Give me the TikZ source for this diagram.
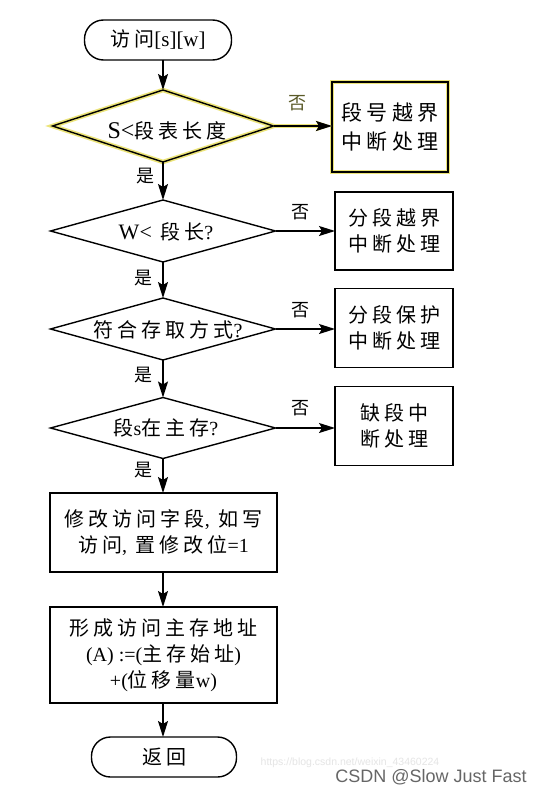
\documentclass[tikz,border=0pt]{standalone}
\usepackage{fontspec}
\setmainfont{Liberation Serif}
\newfontfamily\cjk[LetterSpace=20]{Noto Sans CJK SC}
\newfontfamily\wm{Liberation Sans}
\usetikzlibrary{shapes.geometric,arrows.meta}
\definecolor{halo}{RGB}{236,228,120}
\begin{document}
\begin{tikzpicture}[x=1pt,y=-1pt,
  every node/.style={inner sep=0pt, outer sep=0pt},
  arr/.style={line width=1.4pt, -{Stealth[length=16pt,width=10pt,inset=3pt]}},
  term/.style={draw, line width=1.4pt, rectangle, rounded corners=19pt, font=\cjk\fontsize{20}{26}\selectfont},
  dec/.style={draw, line width=1.4pt, diamond, minimum width=225pt},
  proc/.style={draw, line width=1.4pt, rectangle, align=center, font=\cjk\fontsize{20}{26}\selectfont},
  txt/.style={align=center, font=\cjk\fontsize{20}{26}\selectfont},
  lab/.style={font=\cjk\fontsize{18}{18}\selectfont},
  hl/.style={preaction={draw=halo, line width=4.5pt}}]
\fill[white] (0,0) rectangle (546,792);
\useasboundingbox (0,0) rectangle (546,792);

% start
\node[term, minimum width=147pt, minimum height=40pt] (start) at (158,40) {访问{\rmfamily\fontsize{21}{26}\selectfont[s][w]}};

% decisions
\node[dec, hl, minimum width=221pt, minimum height=72pt] (d1) at (163,126) {};
\node[txt] (t1) at (167,131) {{\rmfamily\fontsize{24}{26}\selectfont S<}段表长度};
\node[dec, minimum height=62pt] (d2) at (163,231) {};
\node[txt] (t2) at (166,232) {{\rmfamily\fontsize{22}{26}\selectfont W<} 段长{\rmfamily ?}};
\node[dec, minimum height=62pt] (d3) at (163,329) {};
\node[txt] (t3) at (168,330) {符合存取方式{\rmfamily ?}};
\node[dec, minimum height=61pt] (d4) at (163,428) {};
\node[txt] (t4) at (166,428) {段{\rmfamily s}在主存{\rmfamily ?}};

% side boxes
\node[proc, hl, minimum width=116pt, minimum height=90pt, font=\cjk\fontsize{21}{29}\selectfont] (b1) at (390,127) {段号越界\\中断处理};
\node[proc, minimum width=118pt, minimum height=78pt] (b2) at (394,231) {分段越界\\中断处理};
\node[proc, minimum width=118pt, minimum height=79pt] (b3) at (394,328) {分段保护\\中断处理};
\node[proc, minimum width=118pt, minimum height=79pt] (b4) at (394,426) {缺段中\\断处理};

% main boxes
\node[proc, minimum width=227pt, minimum height=79pt] (b5) at (163.5,532.5) {修改访问字段{\rmfamily ,} 如写\\访问{\rmfamily ,} 置修改位{\rmfamily =1}};
\node[proc, minimum width=227pt, minimum height=96pt] (b6) at (163.5,655) {形成访问主存地址\\{\rmfamily (A) :=(}主存始址{\rmfamily )}\\{\rmfamily +(}位移量{\rmfamily w)}};

% end
\node[term, minimum width=145pt, minimum height=40pt] (end) at (164,757) {返回};

% labels
\node[lab, text={rgb,255:red,90;green,90;blue,40}] (n1) at (297,103) {否};
\node[lab] (n2) at (300,212) {否};
\node[lab] (n3) at (300,310) {否};
\node[lab] (n4) at (300,408) {否};
\node[lab] (y1) at (145,176) {是};
\node[lab] (y2) at (143,278) {是};
\node[lab] (y3) at (143,375) {是};
\node[lab] (y4) at (143,470) {是};

% connectors
\draw[arr] (start.south -| d1.north) -- (d1.north);
\draw[arr] (d1.south) -- (d2.north);
\draw[arr] (d2.south) -- (d3.north);
\draw[arr] (d3.south) -- (d4.north);
\draw[arr] (d4.south) -- (d4.south |- b5.north);
\draw[arr] (b5.south -| d4.south) -- (b6.north -| d4.south);
\draw[arr] (b6.south -| d4.south) -- (end.north -| d4.south);
\draw[arr, preaction={draw=halo, line width=4pt}] (d1.east) -- (d1.east -| b1.west);
\draw[arr] (d2.east) -- (d2.east -| b2.west);
\draw[arr] (d3.east) -- (d3.east -| b3.west);
\draw[arr] (d4.east) -- (d4.east -| b4.west);

% watermarks
\node[font=\wm\fontsize{10.5}{10.5}\selectfont, text=black!10] (url) at (350,763) {https://blog.csdn.net/weixin\_43460224};
\node[font=\wm\fontsize{18}{18}\selectfont, text=black!60] (wm) at (431,777) {CSDN @Slow Just Fast};
\end{tikzpicture}
\end{document}
